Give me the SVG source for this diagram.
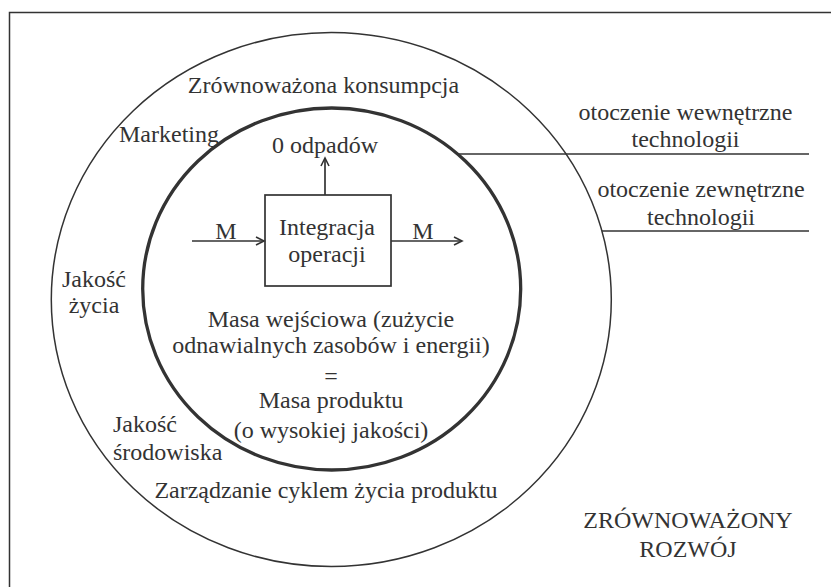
<svg xmlns="http://www.w3.org/2000/svg" width="831" height="587" viewBox="0 0 831 587">
<style>
text{font-family:"Liberation Serif","Times New Roman",serif;font-size:24px;fill:#333;}
.c{text-anchor:middle;}
.ln{stroke:#333;fill:none;stroke-width:1.5;}
.ar{stroke:#333;fill:none;stroke-width:1.7;}
</style>
<defs>
<marker id="ah" markerUnits="userSpaceOnUse" markerWidth="12" markerHeight="12" refX="9" refY="5" orient="auto">
<path d="M1,1 L9,5 L1,9" fill="none" stroke="#333" stroke-width="1.6"/>
</marker>
</defs>
<rect width="831" height="587" fill="#fff"/>
<g id="frame"><path class="ln" d="M9.5,600 V12.5 H840"/></g>
<g id="outer"><ellipse class="ln" cx="331.3" cy="299.5" rx="280" ry="267"/></g>
<g id="inner"><ellipse cx="331.7" cy="289" rx="189" ry="181" fill="none" stroke="#333" stroke-width="3.3"/></g>
<g id="box"><rect x="265" y="195" width="126" height="91" fill="none" stroke="#333" stroke-width="1.7"/>
<text class="c" x="327" y="235">Integracja</text>
<text class="c" x="327" y="262">operacji</text></g>
<g id="connectors">
<line class="ar" x1="192" y1="241" x2="264" y2="241" marker-end="url(#ah)"/>
<line class="ar" x1="391" y1="241" x2="462" y2="241" marker-end="url(#ah)"/>
<line class="ar" x1="325" y1="195" x2="325" y2="158" marker-end="url(#ah)"/>
<line class="ln" x1="458" y1="154" x2="809" y2="154"/>
<line class="ln" x1="602" y1="231" x2="809" y2="231"/>
</g>
<g id="labels">
<text class="c" x="226" y="239">M</text>
<text class="c" x="423" y="239">M</text>
<text class="c" x="325" y="153">0 odpadów</text>
<text class="c" x="323.5" y="93">Zrównoważona konsumpcja</text>
<text x="119" y="142">Marketing</text>
<text class="c" x="685.5" y="120">otoczenie wewnętrzne</text>
<text class="c" x="685.5" y="147">technologii</text>
<text class="c" x="701" y="197">otoczenie zewnętrzne</text>
<text class="c" x="701" y="225">technologii</text>
<text class="c" x="94" y="287">Jakość</text>
<text class="c" x="94" y="313">życia</text>
<text class="c" x="331" y="327">Masa wejściowa (zużycie</text>
<text class="c" x="331" y="353">odnawialnych zasobów i energii)</text>
<text class="c" x="331" y="384">=</text>
<text class="c" x="331" y="408">Masa produktu</text>
<text class="c" x="331" y="438">(o wysokiej jakości)</text>
<text x="113" y="432">Jakość</text>
<text x="113" y="460">środowiska</text>
<text class="c" x="326" y="498">Zarządzanie cyklem życia produktu</text>
<text class="c" x="688" y="528">ZRÓWNOWAŻONY</text>
<text class="c" x="688" y="557">ROZWÓJ</text>
</g>
</svg>
